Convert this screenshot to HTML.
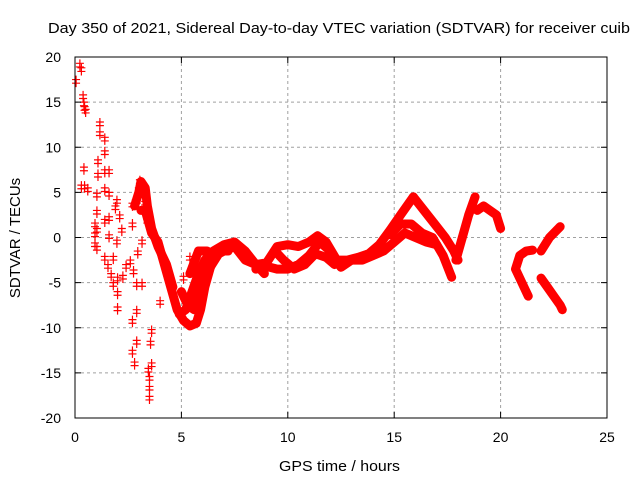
<!DOCTYPE html>
<html><head><meta charset="utf-8"><style>
body{margin:0;background:#fff}
svg{display:block;font-family:"Liberation Sans",Arial,sans-serif}
</style></head><body>
<svg id="chart" width="640" height="480">
<rect width="640" height="480" fill="#fff"/>
<text x="48" y="33" font-size="15" textLength="582" lengthAdjust="spacingAndGlyphs">Day 350 of 2021, Sidereal Day-to-day VTEC variation (SDTVAR) for receiver cuib</text>
<text x="279" y="471" font-size="15" textLength="121" lengthAdjust="spacingAndGlyphs">GPS time / hours</text>
<text transform="translate(20,238) rotate(-90)" font-size="15" text-anchor="middle">SDTVAR / TECUs</text>
<g id="grid"></g><g id="marks"></g><g id="axes"></g>
</svg>
<script>
const xTicks=[0,5,10,15,20,25];
const yTicks=[-20,-15,-10,-5,0,5,10,15,20];
// scattered early points [t, v]
const scatterT=[0.05,0.23,0.3,0.38,0.42,0.45,0.5,1.17,1.17,1.4,0.42,0.45,0.6,0.3,0.94,0.94,0.94,1.03,1.03,1.03,1.03,1.08,1.08,1.4,1.4,1.4,1.4,1.4,1.6,1.6,1.6,1.6,1.8,1.8,2.0,2.0,2.0,1.97,1.97,2.2,2.25,2.7,2.7,3.05,2.9,2.75,2.9,2.9,2.9,2.7,2.7,2.8,3.5,3.5,3.5,3.6,3.6,3.4,3.15,3.15,4.0,5.1,5.4,1.55,1.7,1.9,2.1,2.4,2.6,3.0,3.2,3.3,2.95,3.45,3.55];
const scatterV=[17.5,19.3,18.8,15.8,15.0,14.5,14.2,12.8,11.7,11.1,7.8,5.8,5.5,5.8,1.6,0.5,-0.6,4.9,3,1,-1,8.6,7.1,9.6,7.5,5.5,2,-2.1,7.5,5,2.3,0.3,-2.1,-5,-4.4,-6,-7.7,4.2,-0.3,1.0,-4.2,3.8,1.6,6.4,4.2,-3.6,-5,-8,-11.4,-9.1,-12.5,-13.8,-15.4,-16.5,-17.6,-10.2,-13.9,2,-0.3,-5,-7,-4.3,-2.1,-3,-4,3.5,2.5,-3,-2.5,5.5,6,4,-1.5,-14.5,-11.5];
// continuous tracks (time arrays / value arrays)
const trackT=[
 [3.1,3.3,3.6,3.9,4.2,4.5,4.8,5.1,5.4,5.7,5.9,6.1,6.4,6.8,7.2],
 [4.9,5.2,5.5,5.8,6.1,6.5,7.0,7.5,8.0,8.5,8.9],
 [5.4,5.8,6.2,6.6,7.0,7.5,8.0,8.5,9.0,9.5,10.0,10.5,11.0,11.4,11.8,12.3,12.8,13.3,13.8,14.3,14.8,15.3,15.9],
 [8.5,9.0,9.5,10.0,10.5,11.0,11.5,12.0,12.5,13.0,13.5,14.0,14.5,15.0,15.5,16.0,16.5,17.0],
 [15.9,16.4,16.9,17.4,17.8,18.0],
 [14.8,15.3,15.8,16.3,16.8,17.3,17.7],
 [17.9,18.2,18.5,18.8],
 [18.9,19.2,19.5,19.8,20.0],
 [21.5,21.2,20.9,20.7,21.0,21.3],
 [21.9,22.3,22.8],
 [21.9,22.2,22.5,22.8,22.9],
 [2.8,3.0,3.1,3.3,3.4,3.6,3.9,4.3,4.6],
 [5.0,5.3,5.6,5.9,6.3,6.7],
 [9.4,9.8,10.3,10.8,11.3,11.8,12.2]
];
const trackV=[
 [3,3,0.5,-0.5,-3,-5.5,-8,-9.2,-9.8,-9.5,-8,-5.5,-3,-1.5,-1.5],
 [-8.5,-8,-6,-4,-2.5,-1.5,-0.8,-0.5,-1.5,-3,-4],
 [-4,-1.5,-1.5,-2,-1.5,-1,-2.5,-3,-2.8,-1,-0.8,-1,-0.5,0.2,-0.5,-2.5,-2.5,-2.2,-1.8,-0.8,0.8,2.5,4.5],
 [-3.5,-3.2,-3.5,-3.5,-3,-2,-0.5,-1.5,-3.3,-2.5,-2.5,-2,-1.5,-0.5,0.5,0,-0.5,-0.8],
 [4.5,3,1.5,0,-1.5,-2.5],
 [0.3,1.5,1.5,0.5,0,-2,-4.4],
 [-2.5,0,2.5,4.5],
 [3,3.5,3,2.5,1],
 [-1.4,-1.5,-2,-3.5,-5,-6.5],
 [-1.5,0,1.2],
 [-4.5,-5.5,-6.5,-7.5,-8],
 [3.5,5,6.2,5.5,3.5,1,-1,-3,-5.5],
 [-6,-7.5,-8,-6,-3.5,-2],
 [-1.5,-2.5,-3.5,-3,-1.8,-2.2,-3]
];
const X0=75,X1=607,Y0=418,Y1=57;
const xs=t=>X0+(t-0)/25*(X1-X0);
const ys=v=>Y0-(v+20)/40*(Y0-Y1);
const NS='http://www.w3.org/2000/svg';
function mk(tag,attrs,parent){const e=document.createElementNS(NS,tag);for(const k in attrs)e.setAttribute(k,attrs[k]);parent.appendChild(e);return e;}
const grid=document.getElementById('grid'),axes=document.getElementById('axes'),marks=document.getElementById('marks');
xTicks.forEach(t=>{const x=xs(t);
 if(t>0&&t<25){const g=mk('line',{x1:x,x2:x,y1:Y1,y2:Y0,stroke:'#a0a0a0','stroke-dasharray':'3,3'},grid);}
 const tk=mk('path',{d:`M${x},${Y0}v-6M${x},${Y1}v6`,stroke:'#000'},axes);
 const l=mk('text',{x:x,y:Y0+24,'font-size':14,'text-anchor':'middle'},axes);l.textContent=t;
 
 
});
yTicks.forEach(v=>{const y=ys(v);
 if(v>-20&&v<20){const g=mk('line',{x1:X0,x2:X1,y1:y,y2:y,stroke:'#a0a0a0','stroke-dasharray':'3,3'},grid);}
 const tk=mk('path',{d:`M${X0},${y}h6M${X1},${y}h-6`,stroke:'#000'},axes);
 const l=mk('text',{x:X0-14,y:y+5,'font-size':14,'text-anchor':'end'},axes);l.textContent=v;
 
 
});
const frame=mk('rect',{x:X0,y:Y1,width:X1-X0,height:Y0-Y1,fill:'none',stroke:'#000'},axes);


function cross(t,v){const x=xs(t),y=ys(v);
 const c=mk('path',{d:`M${x-4},${y}h8M${x},${y-4}v8`,stroke:'#f00','stroke-width':1.2},marks);
 
 
}
trackT.forEach((ts,i)=>{const vs=trackV[i];
 const p=mk('polyline',{points:ts.map((t,j)=>xs(t)+','+ys(vs[j])).join(' '),fill:'none',stroke:'#f00','stroke-width':9,'stroke-linejoin':'round','stroke-linecap':'round'},marks);
 
 
 ts.forEach((t,j)=>cross(t,vs[j]));
});
scatterT.forEach((t,i)=>{cross(t,scatterV[i]);cross(t,scatterV[i]-0.4);});
</script>
</body></html>
